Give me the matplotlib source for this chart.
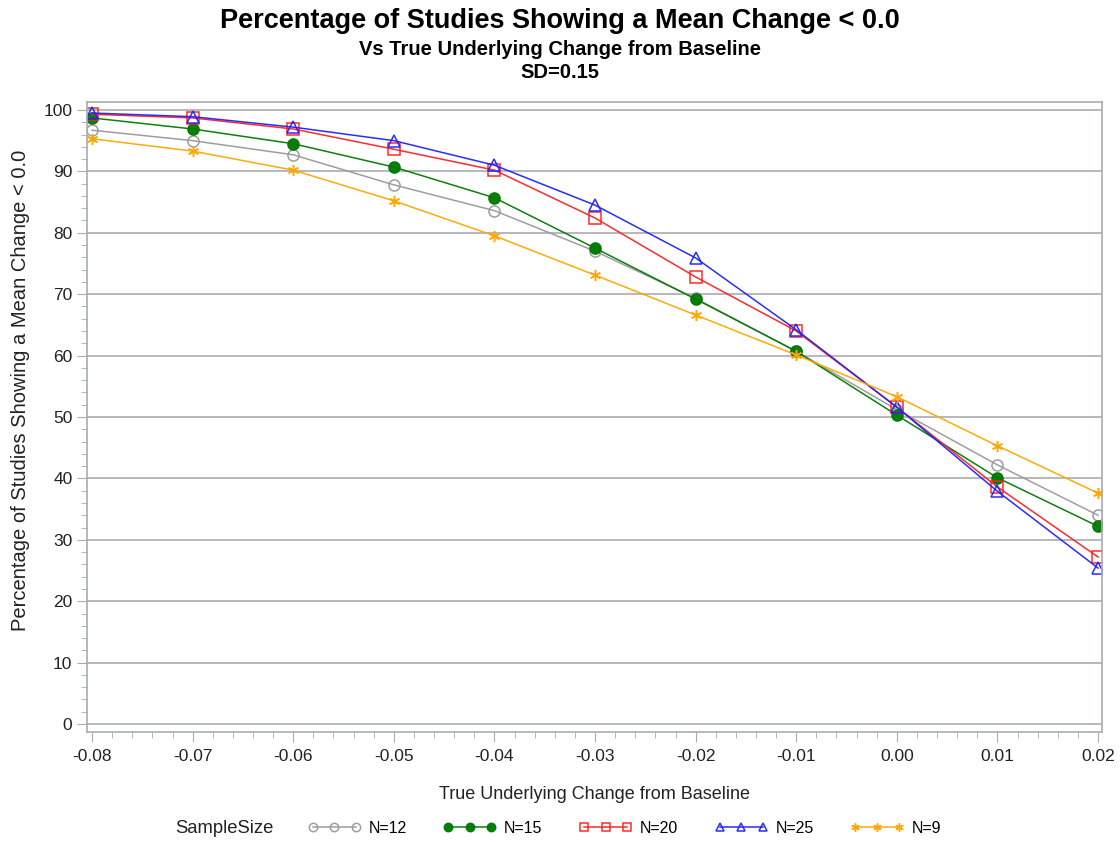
# %% Imports
import matplotlib
matplotlib.use('Agg')
import matplotlib.pyplot as plt
from matplotlib.ticker import MultipleLocator, FormatStrFormatter

plt.rcParams['font.family'] = ['Liberation Sans', 'DejaVu Sans']

# %% Data
change = [-0.08, -0.07, -0.06, -0.05, -0.04, -0.03, -0.02, -0.01, 0.00, 0.01, 0.02]

n12 = [96.7, 95.0, 92.7, 87.8, 83.6, 77.0, 69.3, 60.7, 51.2, 42.2, 34.0]
n15 = [98.7, 96.9, 94.5, 90.7, 85.7, 77.5, 69.2, 60.7, 50.3, 40.1, 32.2]
n20 = [99.3, 98.7, 96.9, 93.6, 90.2, 82.4, 72.8, 64.0, 51.6, 38.6, 27.2]
n25 = [99.5, 98.9, 97.2, 95.0, 91.0, 84.5, 75.9, 64.2, 51.6, 37.9, 25.4]
n9 = [95.3, 93.3, 90.2, 85.2, 79.5, 73.1, 66.6, 60.1, 53.3, 45.3, 37.6]

series = [
    ('N=12', n12, '#999999', 'o', 'none'),
    ('N=15', n15, '#007800', 'o', '#007800'),
    ('N=20', n20, '#ff2020', 's', 'none'),
    ('N=25', n25, '#2020ff', '^', 'none'),
    ('N=9', n9, '#ffa500', (6, 2, 0), '#ffa500'),
]

# %% Plot
fig = plt.figure(figsize=(11.2, 8.42), dpi=100)
ax = fig.add_axes([0.0777, 0.1306, 0.9063, 0.7483])

handles = []
for label, vals, color, marker, face in series:
    h, = ax.plot(change, vals, color=color, lw=1.1, marker=marker,
                 markersize=8,
                 markerfacecolor=face, markeredgecolor=color,
                 markeredgewidth=1.1, label=label, alpha=0.95)
    handles.append(h)

ax.set_xlim(-0.0805, 0.0204)
ax.set_ylim(-1.3, 101.3)
ax.xaxis.set_major_locator(MultipleLocator(0.01))
ax.xaxis.set_minor_locator(MultipleLocator(0.002))
ax.xaxis.set_major_formatter(FormatStrFormatter('%.2f'))
ax.yaxis.set_major_locator(MultipleLocator(10))
ax.yaxis.set_minor_locator(MultipleLocator(2))

ax.grid(axis='y', which='major', color='#a8acb0', lw=1.2)
ax.set_axisbelow(True)
for s in ax.spines.values():
    s.set_color('#a8acb0')
    s.set_linewidth(1.2)
ax.tick_params(axis='both', which='major', length=7, color='#a8acb0',
               labelsize=12.5, labelcolor='#222222')
ax.tick_params(axis='x', which='major', pad=5)
ax.tick_params(axis='both', which='minor', length=4, color='#a8acb0')

ax.set_xlabel('True Underlying Change from Baseline', fontsize=13,
              labelpad=16, color='#222222')
ax.set_ylabel('Percentage of Studies Showing a Mean Change < 0.0',
              fontsize=14.5, color='#222222')
ax.yaxis.set_label_coords(-0.056, 0.543)

fig.text(0.5, 0.975, 'Percentage of Studies Showing a Mean Change < 0.0',
         ha='center', va='center', fontsize=19.5, fontweight='bold')
fig.text(0.5, 0.941, 'Vs True Underlying Change from Baseline',
         ha='center', va='center', fontsize=14.5, fontweight='bold')
fig.text(0.5, 0.914, 'SD=0.15',
         ha='center', va='center', fontsize=14.5, fontweight='bold')

# Legend at the bottom
fig.text(0.156, 0.016, 'SampleSize', ha='left', va='center',
         fontsize=13.3, color='#222222')
fig.legend(handles=handles, loc='center left', bbox_to_anchor=(0.262, 0.016),
           ncol=5, frameon=False, numpoints=3, handlelength=3.3,
           handletextpad=0.5, columnspacing=2.3, fontsize=11.5,
           markerscale=0.75)

plt.savefig('out.png', dpi=100)
